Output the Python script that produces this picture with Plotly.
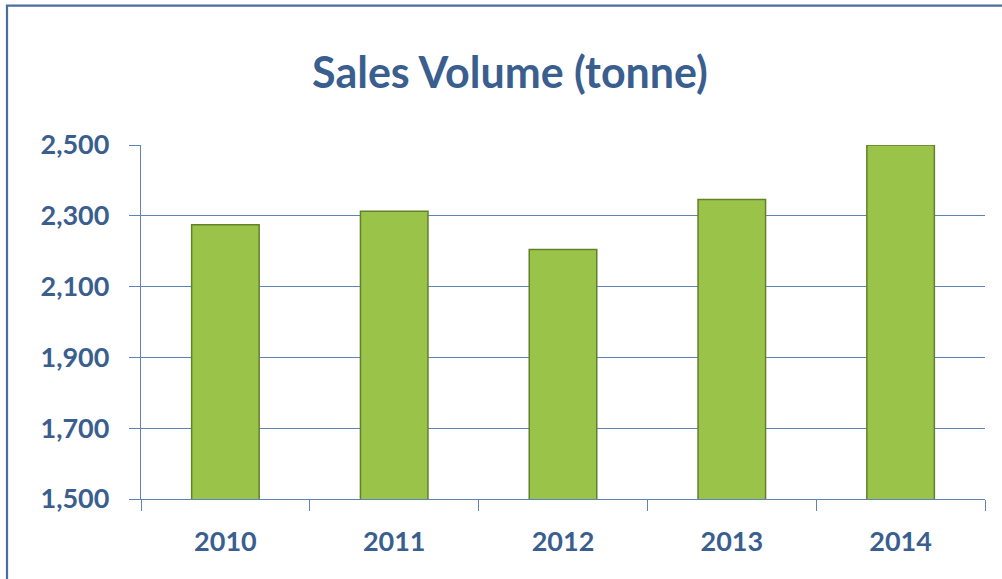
import plotly.graph_objects as go

years = ["2010", "2011", "2012", "2013", "2014"]
volumes = [2275, 2313, 2205, 2346, 2500]
y_ticks = [1500, 1700, 1900, 2100, 2300, 2500]

TXT = "#3A5F8F"
GRID = "#5F82B8"
FRAME = "#4B6C9E"

fig = go.Figure()
fig.add_trace(go.Bar(
    x=years, y=volumes,
    marker=dict(color="#9AC449", line=dict(color="#63802A", width=1.5)),
    width=0.4,
    hoverinfo="x+y",
))

fig.update_layout(
    width=1002, height=579,
    margin=dict(l=141, r=17, t=145, b=79.5, pad=0),
    paper_bgcolor="white", plot_bgcolor="white",
    showlegend=False,
    title=dict(
        text="<b>Sales Volume (tonne)</b>",
        x=510/1002, xref="container", xanchor="center",
        y=1-73/579, yref="container", yanchor="middle",
        font=dict(family="Lato", size=43, color=TXT),
    ),
    font=dict(family="Lato", color=TXT),
    shapes=[dict(type="rect", xref="paper", yref="paper",
                 x0=(7-141)/844, x1=(1010-141)/844,
                 y0=-(590-499.5)/354.5, y1=1+(145-5.5)/354.5,
                 line=dict(color=FRAME, width=2.2), layer="below")],
)

fig.update_yaxes(
    range=[1500, 2500], tickvals=y_ticks, tickformat=",",
    showgrid=True, gridcolor=GRID, gridwidth=1.3,
    showline=True, linecolor=GRID, linewidth=1.3,
    ticks="outside", ticklen=11, tickcolor=GRID, tickwidth=1.3,
    tickfont=dict(family="Lato", size=27, color=TXT, weight="bold"),
    ticklabelstandoff=14,
    zeroline=False,
)
fig.update_xaxes(
    showline=True, linecolor=GRID, linewidth=1.3,
    ticks="outside", ticklen=11, tickcolor=GRID, tickwidth=1.3,
    tickson="boundaries",
    tickfont=dict(family="Lato", size=27, color=TXT, weight="bold"),
    ticklabelstandoff=18,
    showgrid=False,
)

fig.write_html("out.html")
